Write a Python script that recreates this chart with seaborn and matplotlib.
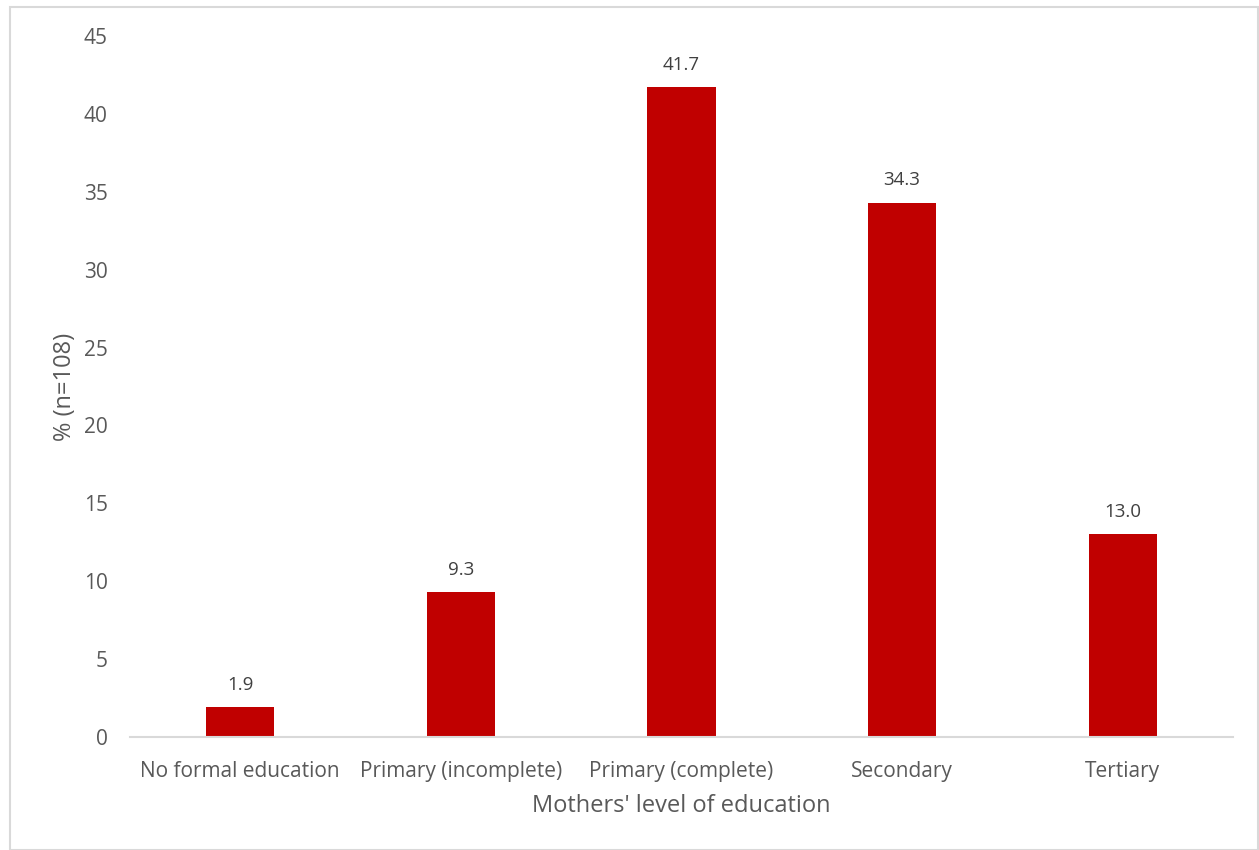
import matplotlib
matplotlib.use("Agg")
import matplotlib.pyplot as plt
import seaborn as sns
import pandas as pd
from matplotlib.patches import Rectangle

categories = ["No formal education", "Primary (incomplete)", "Primary (complete)", "Secondary", "Tertiary"]
values = [1.9, 9.3, 41.7, 34.3, 13.0]
yticks = [0, 5, 10, 15, 20, 25, 30, 35, 40, 45]

sns.set_theme(style="white")
plt.rcParams['font.family'] = ['Open Sans', 'DejaVu Sans']

TEXT = "#595959"
df = pd.DataFrame({"cat": categories, "val": values})

fig = plt.figure(figsize=(12.59, 8.5), dpi=100)
ax = fig.add_axes([130/1259, 1-737/850, (1233-130)/1259, (737-36)/850])

sns.barplot(data=df, x="cat", y="val", color="#C00000", saturation=1, width=0.31, ax=ax)
for p in ax.patches:
    p.set_edgecolor("none")

ax.set_ylim(0, 45)
ax.set_xlim(-0.5, len(categories) - 0.5)
ax.set_yticks(yticks)
ax.set_yticklabels([str(t) for t in yticks])
ax.tick_params(axis="both", colors=TEXT, labelsize=15, length=0)
ax.tick_params(axis="y", pad=16)
ax.tick_params(axis="x", pad=17)
for s in ["top", "right", "left"]:
    ax.spines[s].set_visible(False)
ax.spines["bottom"].set_color("#D9D9D9")
ax.spines["bottom"].set_linewidth(1.5)

ax.set_xlabel("Mothers' level of education", color=TEXT, fontsize=17, labelpad=9)
ax.set_ylabel("% (n=108)", color=TEXT, fontsize=17, labelpad=5)

for i, v in enumerate(values):
    ax.annotate(f"{v:.1f}", (i, v), xytext=(0, 16), textcoords="offset points",
                ha="center", va="center", color="#404040", fontsize=13.5)

fig.patches.append(Rectangle((10/1259, 0), 1 - 10/1259 - 0.001, 1 - 7/850, transform=fig.transFigure,
                             fill=False, edgecolor="#D9D9D9", linewidth=1.5))

fig.savefig("out.png", dpi=100, facecolor="white")
